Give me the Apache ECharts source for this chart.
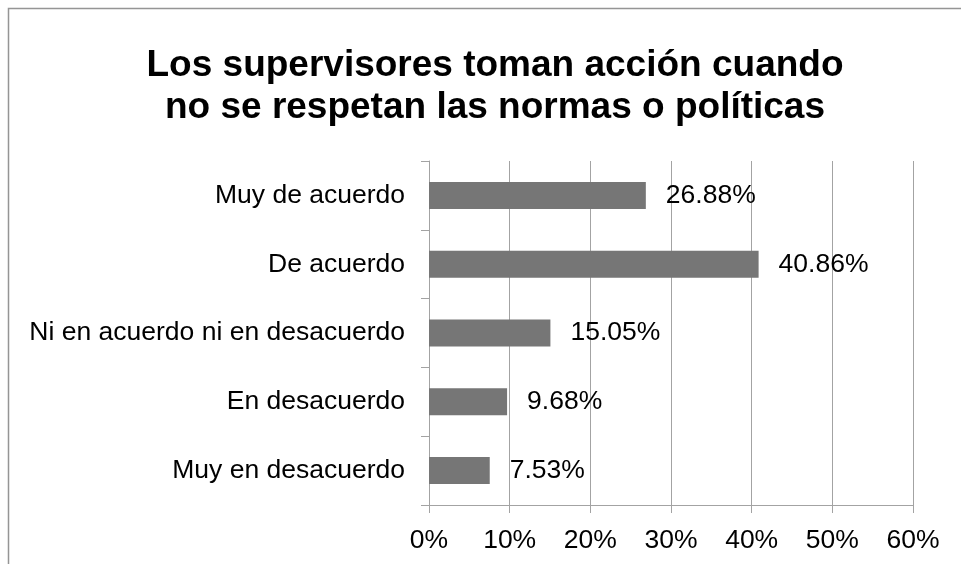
<!DOCTYPE html>
<html>
<head>
<meta charset="utf-8">
<script src="https://cdn.jsdelivr.net/npm/echarts@6/dist/echarts.min.js"></script>
<style>
  html, body { margin: 0; padding: 0; background: #fff; }
  #chart { width: 961px; height: 564px; }
</style>
</head>
<body>
<div id="chart"></div>
<script>
  // categories listed top to bottom
  const categories = [
    'Muy de acuerdo',
    'De acuerdo',
    'Ni en acuerdo ni en desacuerdo',
    'En desacuerdo',
    'Muy en desacuerdo'
  ]
  const percentages = [26.88, 40.86, 15.05, 9.68, 7.53]
  const xTicks = [0, 10, 20, 30, 40, 50, 60]

  const font = 'Liberation Sans, Arial, sans-serif'
  const gridColor = '#a3a3a3'

  const chart = echarts.init(document.getElementById('chart'))
  chart.setOption({
    animation: false,
    backgroundColor: '#fff',
    title: {
      text: 'Los supervisores toman acción cuando\nno se respetan las normas o políticas',
      left: 490,
      top: 40,
      textAlign: 'center',
      textStyle: {
        fontFamily: font,
        fontSize: 37,
        fontWeight: 'bold',
        color: '#000',
        lineHeight: 42
      }
    },
    graphic: [
      {
        type: 'rect',
        shape: { x: 8.5, y: 8.5, width: 1000, height: 600 },
        style: { fill: 'none', stroke: '#959595', lineWidth: 1.5 },
        silent: true
      }
    ],
    grid: {
      left: 429,
      right: 48,
      top: 161,
      bottom: 59,
      containLabel: false
    },
    xAxis: {
      type: 'value',
      min: xTicks[0],
      max: xTicks[xTicks.length - 1],
      interval: 10,
      axisLine: { show: true, lineStyle: { color: gridColor, width: 1 } },
      axisTick: { show: true, length: 8, lineStyle: { color: gridColor } },
      splitLine: { show: true, lineStyle: { color: gridColor, width: 1 } },
      axisLabel: {
        margin: 22,
        color: '#000',
        fontFamily: font,
        fontSize: 26.5,
        formatter: '{value}%'
      }
    },
    yAxis: {
      type: 'category',
      inverse: true,
      data: categories,
      axisLine: { show: true, lineStyle: { color: gridColor, width: 1 } },
      axisTick: { show: true, length: 8, alignWithLabel: false, lineStyle: { color: gridColor } },
      splitLine: { show: false },
      axisLabel: {
        margin: 24,
        color: '#000',
        fontFamily: font,
        fontSize: 26.5
      }
    },
    series: [
      {
        type: 'bar',
        data: percentages,
        barWidth: 27,
        itemStyle: { color: '#767676' },
        label: {
          show: true,
          position: 'right',
          distance: 20,
          color: '#000',
          fontFamily: font,
          fontSize: 26.5,
          formatter: p => p.value.toFixed(2) + '%'
        }
      }
    ]
  })
</script>
</body>
</html>
